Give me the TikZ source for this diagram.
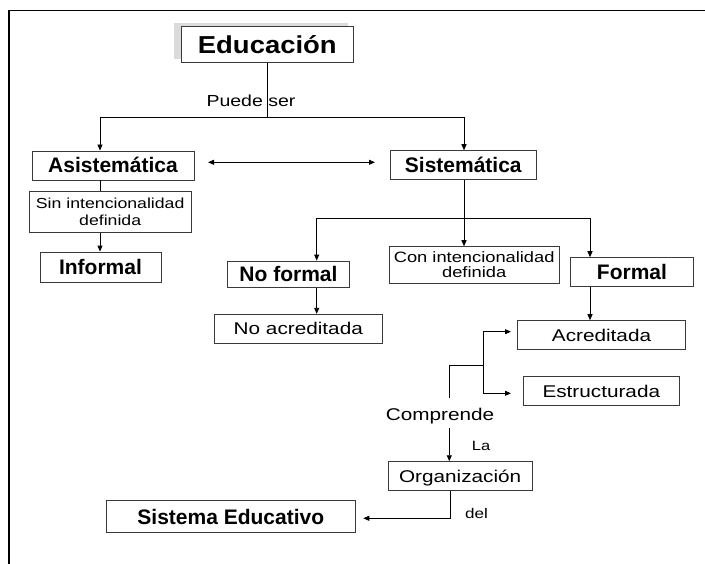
\documentclass[tikz,border=0pt]{standalone}
\usepackage{fontspec}
\setmainfont{Liberation Sans}
\newfontfamily\regf[FakeStretch=1.22]{Liberation Sans}
\newfontfamily\eduf[FakeStretch=1.12]{Liberation Sans}
\usetikzlibrary{arrows.meta}
\definecolor{boxc}{HTML}{3A3A3A}
\begin{document}
\begin{tikzpicture}[x=1pt,y=-1pt,
  box/.style={draw=boxc,line width=0.9pt,inner sep=0pt,text=black},
  bold/.style={font=\fontsize{21}{25}\selectfont\bfseries,text height=15pt,text depth=0pt},
  reg/.style={font=\regf\fontsize{17}{20}\selectfont,text height=12.2pt,text depth=0pt},
  two/.style={align=center},
  con/.style={line width=0.9pt,draw=black},
  arr/.style={con,-{Triangle[length=6pt,width=5pt]}},
  lbl/.style={inner sep=0pt,text=black},
]
\useasboundingbox (0,0) rectangle (705,564);
% outer frame
\draw[line width=1.4pt] (9,564) -- (9,10.7) -- (705,10.7);
% shadow of top box
\fill[gray!28] (174,22.7) rectangle (348,59);
\node[box,fill=white,minimum width=171.3pt,minimum height=36pt,
  font=\eduf\fontsize{24.5}{28}\selectfont\bfseries,text height=17.5pt,text depth=0pt] (edu) at (267.3,44.7) {Educación};

\node[box,bold,minimum width=162pt,minimum height=29pt] (asis) at (113,165.5) {Asistemática};
\node[box,bold,minimum width=146.7pt,minimum height=28.6pt] (sist) at (463.3,165) {Sistemática};
\node[box,two,font=\regf\fontsize{14.5}{17}\selectfont,minimum width=161.7pt,minimum height=41pt] (sin) at (110.2,212.2) {Sin intencionalidad\\definida};
\node[box,bold,minimum width=121pt,minimum height=30.3pt] (informal) at (100.5,267.2) {Informal};
\node[box,bold,minimum width=121.6pt,minimum height=26.3pt] (noformal) at (288.5,274.2) {No formal};
\node[box,reg,minimum width=168pt,minimum height=29pt] (noacred) at (298.3,328.8) {No acreditada};
\node[box,two,font=\regf\fontsize{15}{15}\selectfont,minimum width=169.7pt,minimum height=36.6pt] (con) at (474.2,265) {Con intencionalidad\\definida};
\node[box,bold,minimum width=122.6pt,minimum height=29pt] (formal) at (632,272.2) {Formal};
\node[box,reg,minimum width=168.4pt,minimum height=29.3pt] (acred) at (601.5,335.3) {Acreditada};
\node[box,reg,minimum width=156pt,minimum height=29.3pt] (estr) at (601.3,391.3) {Estructurada};
\node[box,reg,minimum width=143.7pt,minimum height=29pt] (org) at (460.2,476.2) {Organización};
\node[box,bold,minimum width=249.7pt,minimum height=31.6pt] (sisedu) at (230.8,516.5) {Sistema Educativo};

% connectors
\coordinate (hL) at (100,117);
\coordinate (hR) at (464,117);
\draw[con] (edu.south) -- (edu.south |- hL);
\draw[con] (hL) -- (hR);
\draw[arr] (hL) -- (hL |- asis.north);
\draw[arr] (hR) -- (hR |- sist.north);
\node[lbl,font=\regf\fontsize{16}{19}\selectfont,anchor=base] (puede) at (251,107) {Puede ser};

\coordinate (da1) at (208,162.3);
\coordinate (da2) at (375,162.3);
\draw[con,{Triangle[length=6pt,width=5pt]}-{Triangle[length=6pt,width=5pt]}] (da1) -- (da2);

\draw[con] (asis.south -| hL) -- (sin.north -| hL);
\draw[arr] (sin.south -| hL) -- (informal.north -| hL);

\draw[arr] (sist.south -| hR) -- (con.north -| hR);
\coordinate (h2L) at (316.7,218.3);
\coordinate (h2R) at (590,218.3);
\draw[con] (h2L) -- (h2R);
\draw[arr] (h2L) -- (h2L |- noformal.north);
\draw[arr] (h2R) -- (h2R |- formal.north);
\draw[arr] (noformal.south -| h2L) -- (noacred.north -| h2L);
\draw[arr] (formal.south -| h2R) -- (acred.north -| h2R);

% bracket from Comprende
\coordinate (c0) at (449.3,398.3);
\coordinate (c1) at (449.3,365.7);
\coordinate (b1) at (483.3,365.7);
\coordinate (bt) at (483.3,331.7);
\coordinate (bb) at (483.3,393.3);
\coordinate (ta) at (511,331.7);
\coordinate (te) at (511,393.3);
\draw[con] (c0) -- (c1) -- (b1);
\draw[con] (bt) -- (bb);
\draw[arr] (bt) -- (ta);
\draw[arr] (bb) -- (te);

\node[lbl,reg,anchor=base] (comp) at (440,420.7) {Comprende};
\coordinate (c2) at (449.3,428.3);
\draw[arr] (c2) -- (c2 |- org.north);
\node[lbl,font=\regf\fontsize{13.5}{16}\selectfont,anchor=base west] (la) at (471.7,450) {La};

\coordinate (o1) at (450,518.3);
\coordinate (o2) at (363.3,518.3);
\draw[arr] (org.south -| o1) -- (o1) -- (o2);
\node[lbl,font=\regf\fontsize{14}{16}\selectfont,anchor=base west] (del) at (465,518) {del};
\end{tikzpicture}
\end{document}
